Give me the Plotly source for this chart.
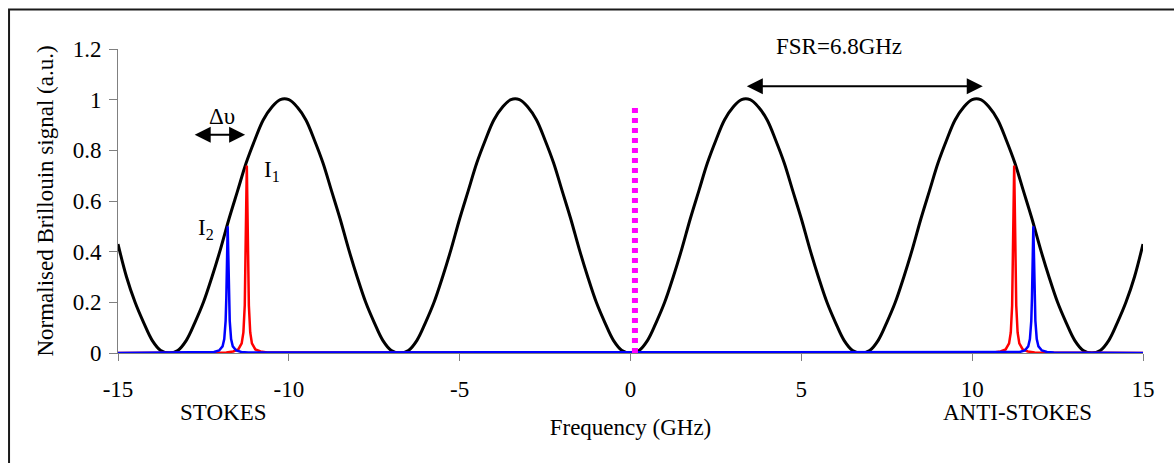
import plotly.graph_objects as go

# Transmission response of the filter (normalised), sampled every 0.25 GHz
filter_freq = [
    -15.0, -14.75, -14.5, -14.25, -14.0, -13.75, -13.5, -13.25, -13.0, -12.75,
    -12.5, -12.25, -12.0, -11.75, -11.5, -11.25, -11.0, -10.75, -10.5, -10.25,
    -10.0, -9.75, -9.5, -9.25, -9.0, -8.75, -8.5, -8.25, -8.0, -7.75,
    -7.5, -7.25, -7.0, -6.75, -6.5, -6.25, -6.0, -5.75, -5.5, -5.25,
    -5.0, -4.75, -4.5, -4.25, -4.0, -3.75, -3.5, -3.25, -3.0, -2.75,
    -2.5, -2.25, -2.0, -1.75, -1.5, -1.25, -1.0, -0.75, -0.5, -0.25,
    0.0, 0.25, 0.5, 0.75, 1.0, 1.25, 1.5, 1.75, 2.0, 2.25,
    2.5, 2.75, 3.0, 3.25, 3.5, 3.75, 4.0, 4.25, 4.5, 4.75,
    5.0, 5.25, 5.5, 5.75, 6.0, 6.25, 6.5, 6.75, 7.0, 7.25,
    7.5, 7.75, 8.0, 8.25, 8.5, 8.75, 9.0, 9.25, 9.5, 9.75,
    10.0, 10.25, 10.5, 10.75, 11.0, 11.25, 11.5, 11.75, 12.0, 12.25,
    12.5, 12.75, 13.0, 13.25, 13.5, 13.75, 14.0, 14.25, 14.5, 14.75, 15.0,
]
filter_signal = [
    0.43, 0.30, 0.20, 0.12, 0.05, 0.01, 0.00, 0.01, 0.05, 0.12,
    0.20, 0.30, 0.41, 0.53, 0.64, 0.75, 0.84, 0.92, 0.97, 1.00,
    1.00, 0.97, 0.92, 0.84, 0.75, 0.64, 0.53, 0.41, 0.30, 0.20,
    0.12, 0.05, 0.01, 0.00, 0.01, 0.05, 0.12, 0.20, 0.30, 0.41,
    0.53, 0.64, 0.75, 0.84, 0.92, 0.97, 1.00, 1.00, 0.97, 0.92,
    0.84, 0.75, 0.64, 0.53, 0.41, 0.30, 0.20, 0.12, 0.05, 0.01,
    0.00, 0.01, 0.05, 0.12, 0.20, 0.30, 0.41, 0.53, 0.64, 0.75,
    0.84, 0.92, 0.97, 1.00, 1.00, 0.97, 0.92, 0.84, 0.75, 0.64,
    0.53, 0.41, 0.30, 0.20, 0.12, 0.05, 0.01, 0.00, 0.01, 0.05,
    0.12, 0.20, 0.30, 0.41, 0.53, 0.64, 0.75, 0.84, 0.92, 0.97,
    1.00, 1.00, 0.97, 0.92, 0.84, 0.75, 0.64, 0.53, 0.41, 0.30,
    0.20, 0.12, 0.05, 0.01, 0.00, 0.01, 0.05, 0.12, 0.20, 0.30, 0.43,
]

# Brillouin line I1 (Stokes and anti-Stokes)
i1_freq = [-15.0, -11.83, -11.63, -11.48, -11.38, -11.33, -11.29, -11.27, -11.25, -11.23,
           -11.21, -11.19, -11.17, -11.13, -11.08, -10.98, -10.83, -10.63,
           10.63, 10.83, 10.98, 11.08, 11.13, 11.17, 11.19, 11.21, 11.23,
           11.25, 11.27, 11.29, 11.33, 11.38, 11.48, 11.63, 11.83, 15.0]
i1_signal = [0.0, 0.002, 0.006, 0.014, 0.038, 0.081, 0.188, 0.321, 0.558, 0.74,
             0.558, 0.321, 0.188, 0.081, 0.038, 0.014, 0.006, 0.002,
             0.002, 0.006, 0.014, 0.038, 0.081, 0.188, 0.321, 0.558, 0.74,
             0.558, 0.321, 0.188, 0.081, 0.038, 0.014, 0.006, 0.002, 0.0]

# Brillouin line I2 (Stokes and anti-Stokes)
i2_freq = [-15.0, -12.39, -12.19, -12.04, -11.94, -11.89, -11.85, -11.83, -11.81, -11.79,
           -11.77, -11.75, -11.73, -11.69, -11.64, -11.54, -11.39, -11.19,
           11.19, 11.39, 11.54, 11.64, 11.69, 11.73, 11.75, 11.77, 11.79,
           11.81, 11.83, 11.85, 11.89, 11.94, 12.04, 12.19, 12.39, 15.0]
i2_signal = [0.0, 0.002, 0.004, 0.010, 0.026, 0.055, 0.127, 0.217, 0.377, 0.50,
             0.377, 0.217, 0.127, 0.055, 0.026, 0.010, 0.004, 0.002,
             0.002, 0.004, 0.010, 0.026, 0.055, 0.127, 0.217, 0.377, 0.50,
             0.377, 0.217, 0.127, 0.055, 0.026, 0.010, 0.004, 0.002, 0.0]

# Pump position marker
pump_freq = [0.13, 0.13]
pump_level = [0.0, 0.98]

x_ticks = [-15, -10, -5, 0, 5, 10, 15]
x_tick_text = ["-15", "-10", "-5", "0", "5", "10", "15"]
y_ticks = [0, 0.2, 0.4, 0.6, 0.8, 1.0, 1.2]
y_tick_text = ["0", "0.2", "0.4", "0.6", "0.8", "1", "1.2"]

FONT = "Liberation Serif, Times New Roman, serif"
FS = 23
AXIS_GREY = "#808080"

fig = go.Figure()
fig.add_trace(go.Scatter(x=filter_freq, y=filter_signal, mode="lines",
                         line=dict(color="black", width=3, shape="spline", smoothing=1.0)))
fig.add_trace(go.Scatter(x=i1_freq, y=i1_signal, mode="lines",
                         line=dict(color="#FF0000", width=2.5)))
fig.add_trace(go.Scatter(x=i2_freq, y=i2_signal, mode="lines",
                         line=dict(color="#0000FF", width=2.5)))
fig.add_trace(go.Scatter(x=pump_freq, y=pump_level, mode="lines",
                         line=dict(color="#FF00FF", width=6, dash="5px,5px")))

# paper coordinates: x = (px - 118) / 1025, y = (353 - py) / 304
annotations = [
    dict(x=0.7034, y=1.007, xref="paper", yref="paper", text="FSR=6.8GHz"),
    dict(x=0.1034, y=-0.197, xref="paper", yref="paper", text="STOKES"),
    dict(x=0.878, y=-0.197, xref="paper", yref="paper", text="ANTI-STOKES"),
    dict(x=-11.95, y=0.935, xref="x", yref="y", text="Δυ"),
    dict(x=-10.5, y=0.72, xref="x", yref="y", text="I<sub>1</sub>"),
    dict(x=-12.42, y=0.49, xref="x", yref="y", text="I<sub>2</sub>"),
]
for a in annotations:
    fig.add_annotation(showarrow=False, xanchor="center", yanchor="middle",
                       font=dict(family=FONT, size=FS, color="black"), **a)

# double-headed arrows
arrows = [
    dict(x=10.31, ax=3.36, y=1.053),
    dict(x=-11.28, ax=-12.80, y=0.862),
]
for a in arrows:
    fig.add_annotation(x=a["x"], y=a["y"], ax=a["ax"], ay=a["y"], xref="x", yref="y",
                       axref="x", ayref="y", text="", showarrow=True,
                       arrowhead=2, arrowsize=1.6, arrowwidth=2, arrowcolor="black",
                       arrowside="end+start", startarrowhead=2, startarrowsize=1.6,
                       standoff=0, startstandoff=0)

# outer frame round the whole figure
fig.add_shape(type="rect", xref="paper", yref="paper",
              x0=-0.1063, y0=-0.6, x1=1.2, y1=1.1298,
              line=dict(color="#1a1a1a", width=2), layer="above")

fig.update_layout(
    width=1174, height=463,
    margin=dict(l=118, r=31, t=49, b=110),
    paper_bgcolor="white", plot_bgcolor="white",
    showlegend=False,
    font=dict(family=FONT, size=FS, color="black"),
)
fig.update_xaxes(range=[-15, 15], tickvals=x_ticks, ticktext=x_tick_text,
                 ticks="outside", ticklen=7, ticklabelstandoff=8,
                 tickcolor=AXIS_GREY, showline=True, linecolor=AXIS_GREY, linewidth=1,
                 showgrid=False, zeroline=False, layer="below traces",
                 tickfont=dict(family=FONT, size=FS),
                 title=dict(text="Frequency (GHz)", standoff=18,
                            font=dict(family=FONT, size=FS)))
fig.update_yaxes(range=[0, 1.2], tickvals=y_ticks, ticktext=y_tick_text,
                 ticks="outside", ticklen=8, ticklabelstandoff=3, tickcolor=AXIS_GREY,
                 showline=True, linecolor=AXIS_GREY, linewidth=1,
                 showgrid=False, zeroline=False,
                 tickfont=dict(family=FONT, size=FS),
                 title=dict(text="Normalised Brillouin signal (a.u.)", standoff=12,
                            font=dict(family=FONT, size=FS)))

fig.write_html("out.html")
